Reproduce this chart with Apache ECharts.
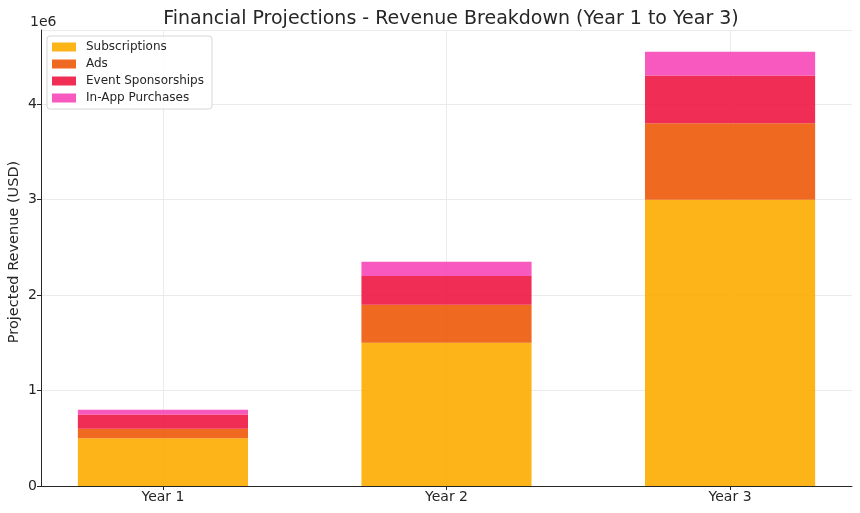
<!DOCTYPE html>
<html>
<head>
<meta charset="utf-8">
<script src="https://cdn.jsdelivr.net/npm/echarts@6/dist/echarts.min.js"></script>
<style>
  html, body { margin: 0; padding: 0; background: #fff; }
  #main { width: 860px; height: 513px; }
</style>
</head>
<body>
<div id="main"></div>
<script>
// categories and revenue per stream (USD)
var years = ['Year 1', 'Year 2', 'Year 3'];
var subscriptions = [500000, 1500000, 3000000];
var ads = [100000, 400000, 800000];
var eventSponsorships = [150000, 300000, 500000];
var inAppPurchases = [50000, 150000, 250000];

var streams = [
    { name: 'Subscriptions', data: subscriptions, color: '#FDAC00' },
    { name: 'Ads', data: ads, color: '#ED5909' },
    { name: 'Event Sponsorships', data: eventSponsorships, color: '#EE1742' },
    { name: 'In-App Purchases', data: inAppPurchases, color: '#F647B7' }
];

var font = 'DejaVu Sans';
var tickIdx = years.map(function (y, i) { return i; });

var option = {
    animation: false,
    textStyle: { fontFamily: font },
    title: [{
        text: 'Financial Projections - Revenue Breakdown (Year 1 to Year 3)',
        left: 446,
        textAlign: 'center',
        top: 5,
        textStyle: { fontFamily: font, fontSize: 19, fontWeight: 'normal', color: '#262626' }
    }, {
        text: '1e6',
        left: 25,
        top: 10,
        textStyle: { fontFamily: font, fontSize: 14, fontWeight: 'normal', color: '#262626' }
    }],
    legend: {
        orient: 'vertical',
        left: 47,
        top: 36,
        padding: [5, 8, 5, 5],
        icon: 'rect',
        itemWidth: 24,
        itemHeight: 9,
        itemGap: 5,
        backgroundColor: 'rgba(255,255,255,0.85)',
        borderColor: '#d6d6d6',
        borderWidth: 1,
        borderRadius: 3,
        textStyle: { fontFamily: font, fontSize: 12, color: '#262626', padding: [0, 0, 0, 5] },
        data: streams.map(function (s) { return s.name; })
    },
    grid: { left: 41, right: 8, top: 30, bottom: 27, containLabel: false, outerBoundsMode: 'none' },
    xAxis: {
        type: 'value',
        min: -0.43,
        max: 2.43,
        axisLine: { show: true, onZero: false, lineStyle: { color: '#262626', width: 1 } },
        axisTick: { show: true, customValues: tickIdx, length: 4, lineStyle: { color: '#262626' } },
        axisLabel: {
            customValues: tickIdx,
            formatter: function (v) { return years[Math.round(v)]; },
            fontFamily: font, fontSize: 14, color: '#262626', margin: 4
        },
        splitLine: { show: true, lineStyle: { color: '#ebebeb', width: 1 } }
    },
    yAxis: {
        type: 'value',
        min: 0,
        max: 4777500,
        interval: 1000000,
        name: 'Projected Revenue (USD)',
        nameLocation: 'middle',
        nameGap: 19,
        nameMoveOverlap: false,
        nameTextStyle: { fontFamily: font, fontSize: 14.5, color: '#262626', padding: [0, 0, 0, 12] },
        axisLine: { show: true, onZero: false, lineStyle: { color: '#262626', width: 1 } },
        axisTick: { show: true, inside: false, length: 4, lineStyle: { color: '#262626' } },
        axisLabel: {
            formatter: function (v) { return String(v / 1000000); },
            fontFamily: font, fontSize: 14, color: '#262626', margin: 4,
            showMaxLabel: false
        },
        splitLine: { show: true, lineStyle: { color: '#ebebeb', width: 1 } }
    },
    // value first, category index second, so the stack runs on the revenue values
    series: streams.map(function (s) {
        return {
            name: s.name,
            type: 'bar',
            stack: 'total',
            barWidth: '60%',
            encode: { x: 1, y: 0 },
            itemStyle: { color: s.color, opacity: 0.9 },
            data: s.data.map(function (v, i) { return [v, i]; })
        };
    })
};

var myChart = echarts.init(document.getElementById('main'));
myChart.setOption(option);
</script>
</body>
</html>
